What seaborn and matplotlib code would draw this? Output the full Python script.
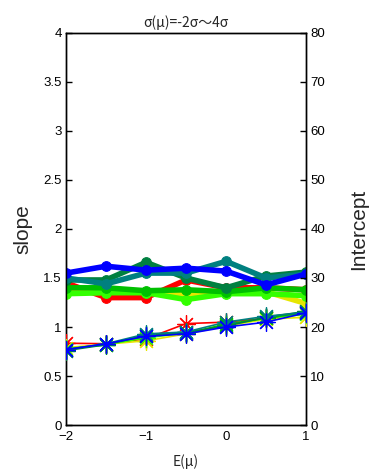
import matplotlib
matplotlib.use("Agg")
import matplotlib.pyplot as plt
import seaborn as sns
import pandas as pd

x_vals = [-2, -1.5, -1, -0.5, 0, 0.5, 1]

series_names = ["red", "yellow", "lime", "green", "darkgreen", "teal", "blue"]
series_colors = ["#ff0000", "#e6e600", "#33ff00", "#00c000", "#008040", "#008080", "#0000ff"]

slope_red = [1.45, 1.30, 1.30, 1.48, 1.40, 1.40, 1.38]
slope_yellow = [1.38, 1.38, 1.36, 1.34, 1.36, 1.36, 1.24]
slope_lime = [1.34, 1.35, 1.35, 1.28, 1.34, 1.34, 1.32]
slope_green = [1.40, 1.40, 1.37, 1.38, 1.36, 1.40, 1.38]
slope_darkgreen = [1.48, 1.48, 1.66, 1.50, 1.40, 1.52, 1.56]
slope_teal = [1.50, 1.44, 1.55, 1.55, 1.67, 1.50, 1.54]
slope_blue = [1.55, 1.62, 1.58, 1.60, 1.57, 1.43, 1.54]

int_red = [16.7, 16.6, 17.6, 20.7, 21.0, 21.8, 22.8]
int_yellow = [15.8, 16.5, 17.2, 18.6, 20.2, 21.6, 22.0]
int_lime = [15.6, 16.4, 17.8, 18.8, 20.4, 21.8, 22.6]
int_green = [15.4, 16.5, 18.2, 18.7, 20.6, 21.8, 23.0]
int_darkgreen = [15.2, 16.4, 18.4, 18.9, 20.2, 22.0, 23.2]
int_teal = [15.4, 16.6, 18.6, 19.0, 21.0, 22.2, 23.0]
int_blue = [15.4, 16.6, 18.1, 18.6, 20.0, 21.0, 22.9]

slopes = [slope_red, slope_yellow, slope_lime, slope_green, slope_darkgreen, slope_teal, slope_blue]
intercepts = [int_red, int_yellow, int_lime, int_green, int_darkgreen, int_teal, int_blue]

left_ticks = [0, 0.5, 1, 1.5, 2, 2.5, 3, 3.5, 4]
left_labels = ["0", "0.5", "1", "1.5", "2", "2.5", "3", "3.5", "4"]
right_ticks = [0, 10, 20, 30, 40, 50, 60, 70, 80]
x_ticks = [-2, -1, 0, 1]

sns.set_style("white")
plt.rcParams["font.family"] = ["Liberation Sans", "Noto Sans CJK JP", "DejaVu Sans"]

fig = plt.figure(figsize=(3.71, 4.75), dpi=100)
ax = fig.add_axes([0.178, 0.105, 0.647, 0.826])
ax2 = ax.twinx()

for name, col, vals in zip(series_names, series_colors, slopes):
    df = pd.DataFrame({"E": x_vals, "v": vals})
    sns.lineplot(data=df, x="E", y="v", ax=ax, color=col, linewidth=4,
                 marker="o", markersize=7, markeredgecolor=col, zorder=3)

for name, col, vals in zip(series_names, series_colors, intercepts):
    df = pd.DataFrame({"E": x_vals, "v": vals})
    sns.lineplot(data=df, x="E", y="v", ax=ax2, color=col, linewidth=1.2,
                 marker=(8, 2, 0), markersize=13, markeredgewidth=0.9,
                 markeredgecolor=col, zorder=3)

ax.set_xlim(-2, 1)
ax.set_ylim(0, 4)
ax2.set_ylim(0, 80)
ax.set_xticks(x_ticks)
ax.set_xticklabels([str(t).replace("-", "\u2212") for t in x_ticks])
ax.set_yticks(left_ticks)
ax.set_yticklabels(left_labels)
ax2.set_yticks(right_ticks)
ax2.set_yticklabels([str(t) for t in right_ticks])

for a in (ax, ax2):
    a.tick_params(direction="in", length=4, width=1, labelsize=9.5, colors="black")
    for s in a.spines.values():
        s.set_color("black")
        s.set_linewidth(1)
ax.tick_params(axis="y", pad=3)
ax2.tick_params(axis="y", pad=3)
ax.tick_params(axis="x", pad=4)

ax.set_xlabel("E(\u03bc)", fontsize=10, family=["Noto Sans CJK JP", "DejaVu Sans"], labelpad=8)
ax.set_ylabel("slope", fontsize=15, labelpad=8)
ax2.set_ylabel("Intercept", fontsize=15, labelpad=17)
ax.set_title("\u03c3(\u03bc)=-2\u03c3\uff5e4\u03c3", fontsize=10,
             family=["Noto Sans CJK JP", "DejaVu Sans"], pad=4)

fig.savefig("out.png", dpi=100, facecolor="white")
